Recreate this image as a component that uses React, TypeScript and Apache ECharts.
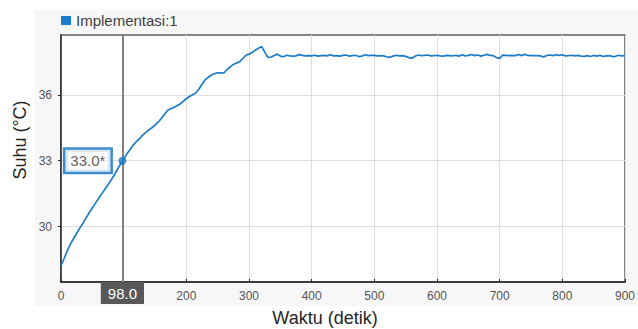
import React, { useEffect, useRef } from "react";
import * as echarts from "echarts";

// Temperature samples (°C), one every 5 s starting at t = 0
const suhu: number[] = [
  28.22, 28.55, 28.9, 29.2, 29.45, 29.7, 29.93, 30.15, 30.4, 30.63,
  30.85, 31.07, 31.28, 31.49, 31.7, 31.91, 32.12, 32.35, 32.6, 32.85,
  33.08, 33.3, 33.5, 33.7, 33.86, 34.0, 34.15, 34.28, 34.4, 34.5,
  34.62, 34.75, 34.92, 35.1, 35.28, 35.36, 35.42, 35.5, 35.58, 35.7,
  35.82, 35.92, 36.0, 36.08, 36.25, 36.48, 36.68, 36.8, 36.9, 36.96,
  37.0, 37.0, 36.99, 37.15, 37.27, 37.38, 37.44, 37.5, 37.65, 37.8,
  37.85, 37.92, 38.03, 38.12, 38.2, 37.95, 37.7,
  37.72, 37.78, 37.85, 37.76, 37.73, 37.8, 37.77, 37.76, 37.77, 37.83,
  37.79, 37.77, 37.78, 37.77, 37.8, 37.76, 37.78, 37.79, 37.77, 37.82,
  37.77, 37.78, 37.76, 37.79, 37.81, 37.76, 37.78, 37.8, 37.74, 37.76,
  37.82, 37.78, 37.79, 37.79, 37.77, 37.78, 37.77, 37.72, 37.71, 37.76,
  37.8, 37.77, 37.78, 37.75, 37.69, 37.66, 37.75, 37.81, 37.78, 37.79,
  37.81, 37.77, 37.78, 37.8, 37.77, 37.76, 37.79, 37.78, 37.77, 37.8,
  37.76, 37.82, 37.77, 37.79, 37.83, 37.78, 37.81, 37.76, 37.8, 37.84,
  37.79, 37.78, 37.69, 37.66, 37.8, 37.79, 37.78, 37.79, 37.78, 37.83,
  37.78, 37.84, 37.79, 37.78, 37.78, 37.78, 37.77, 37.72, 37.79, 37.81,
  37.78, 37.82, 37.79, 37.82, 37.77, 37.78, 37.8, 37.77, 37.79, 37.76,
  37.75, 37.78, 37.74, 37.79, 37.76, 37.8, 37.74, 37.77, 37.78, 37.74,
  37.75, 37.8, 37.77, 37.78,
];
const waktuStep = 5;
const waktu: number[] = suhu.map((_, i) => i * waktuStep);

const yTicks = [30, 33, 36];
const cursorWaktu = 98.0;
const cursorSuhu = 33.0;
const seriesName = "Implementasi:1";

const FONT = "'Liberation Sans', Arial, Helvetica, sans-serif";
const BLUE = "#1c7cc8";

export default function App() {
  const ref = useRef<HTMLDivElement>(null);
  useEffect(() => {
    const chart = echarts.init(ref.current!, null, { renderer: "svg" });
    chart.setOption({
      animation: false,
      backgroundColor: "#ffffff",
      textStyle: { fontFamily: FONT },
      graphic: [
        {
          type: "rect",
          z: -100,
          silent: true,
          shape: { x: 35, y: 10, width: 603, height: 296 },
          style: { fill: "#f7f7f7" },
        },
        {
          type: "text",
          x: 325,
          y: 318,
          style: {
            text: "Waktu (detik)",
            fontSize: 18,
            fontFamily: FONT,
            fill: "#262626",
            textAlign: "center",
            textVerticalAlign: "middle",
          },
        },
        {
          type: "text",
          x: 20,
          y: 140,
          rotation: Math.PI / 2,
          style: {
            text: "Suhu (°C)",
            fontSize: 18,
            fontFamily: FONT,
            fill: "#262626",
            textAlign: "center",
            textVerticalAlign: "middle",
          },
        },
      ],
      legend: {
        data: [seriesName],
        left: 61,
        top: 13,
        padding: 0,
        icon: "rect",
        itemWidth: 10,
        itemHeight: 9,
        textStyle: { fontSize: 15, color: "#404040", fontFamily: FONT },
      },
      grid: {
        left: 61,
        right: 10,
        top: 35,
        bottom: 47,
        show: true,
        backgroundColor: "#ffffff",
        borderColor: "#5e5e5e",
        borderWidth: 1.5,
      },
      xAxis: {
        type: "value",
        min: 0,
        max: 900,
        interval: 100,
        axisLine: { show: true, lineStyle: { color: "#262626", width: 1.5 } },
        axisTick: { show: true, inside: true, length: 3, lineStyle: { color: "#262626" } },
        axisLabel: {
          fontSize: 12,
          color: "#555555",
          margin: 8,
          fontFamily: FONT,
          // the cursor's value box covers the 100 label
          formatter: (v: number) => (v === 100 ? "" : String(v)),
        },
        splitLine: { show: true, lineStyle: { color: "#dedede", width: 1 } },
      },
      yAxis: {
        type: "value",
        min: 27.48,
        max: 38.72,
        axisLine: { show: true, lineStyle: { color: "#262626", width: 1.5 } },
        axisTick: {
          show: true,
          length: 3,
          customValues: yTicks,
          lineStyle: { color: "#262626" },
        },
        axisLabel: {
          customValues: yTicks,
          fontSize: 12,
          color: "#555555",
          margin: 9,
          fontFamily: FONT,
        },
        splitLine: { show: true, lineStyle: { color: "#dedede", width: 1 } },
      },
      series: [
        {
          name: seriesName,
          type: "line",
          data: waktu.map((t, i) => [t, suhu[i]]),
          showSymbol: false,
          symbol: "none",
          lineStyle: { color: BLUE, width: 1.7 },
          itemStyle: { color: BLUE },
          markLine: {
            silent: true,
            symbol: ["none", "none"],
            lineStyle: { color: "#7f7f7f", width: 2, type: "solid" },
            label: {
              show: true,
              position: "start",
              distance: 0,
              formatter: cursorWaktu.toFixed(1),
              backgroundColor: "#595959",
              color: "#ffffff",
              fontSize: 15,
              fontFamily: FONT,
              padding: [4, 7, 3, 7],
            },
            data: [{ xAxis: cursorWaktu }],
          },
        },
        {
          type: "scatter",
          data: [[cursorWaktu, cursorSuhu]],
          symbolSize: 8,
          z: 5,
          itemStyle: { color: BLUE },
          label: {
            show: true,
            position: "left",
            distance: 8,
            formatter: cursorSuhu.toFixed(1) + "*",
            backgroundColor: "#ffffff",
            borderColor: "#0f6fc0",
            borderWidth: 2.5,
            color: "#333333",
            fontSize: 15,
            fontFamily: FONT,
            padding: [4, 5, 3, 5],
          },
        },
      ],
    });
    return () => chart.dispose();
  }, []);
  return (
    <div
      ref={ref}
      style={{ position: "fixed", left: 0, top: 0, width: 638, height: 329 }}
    />
  );
}
